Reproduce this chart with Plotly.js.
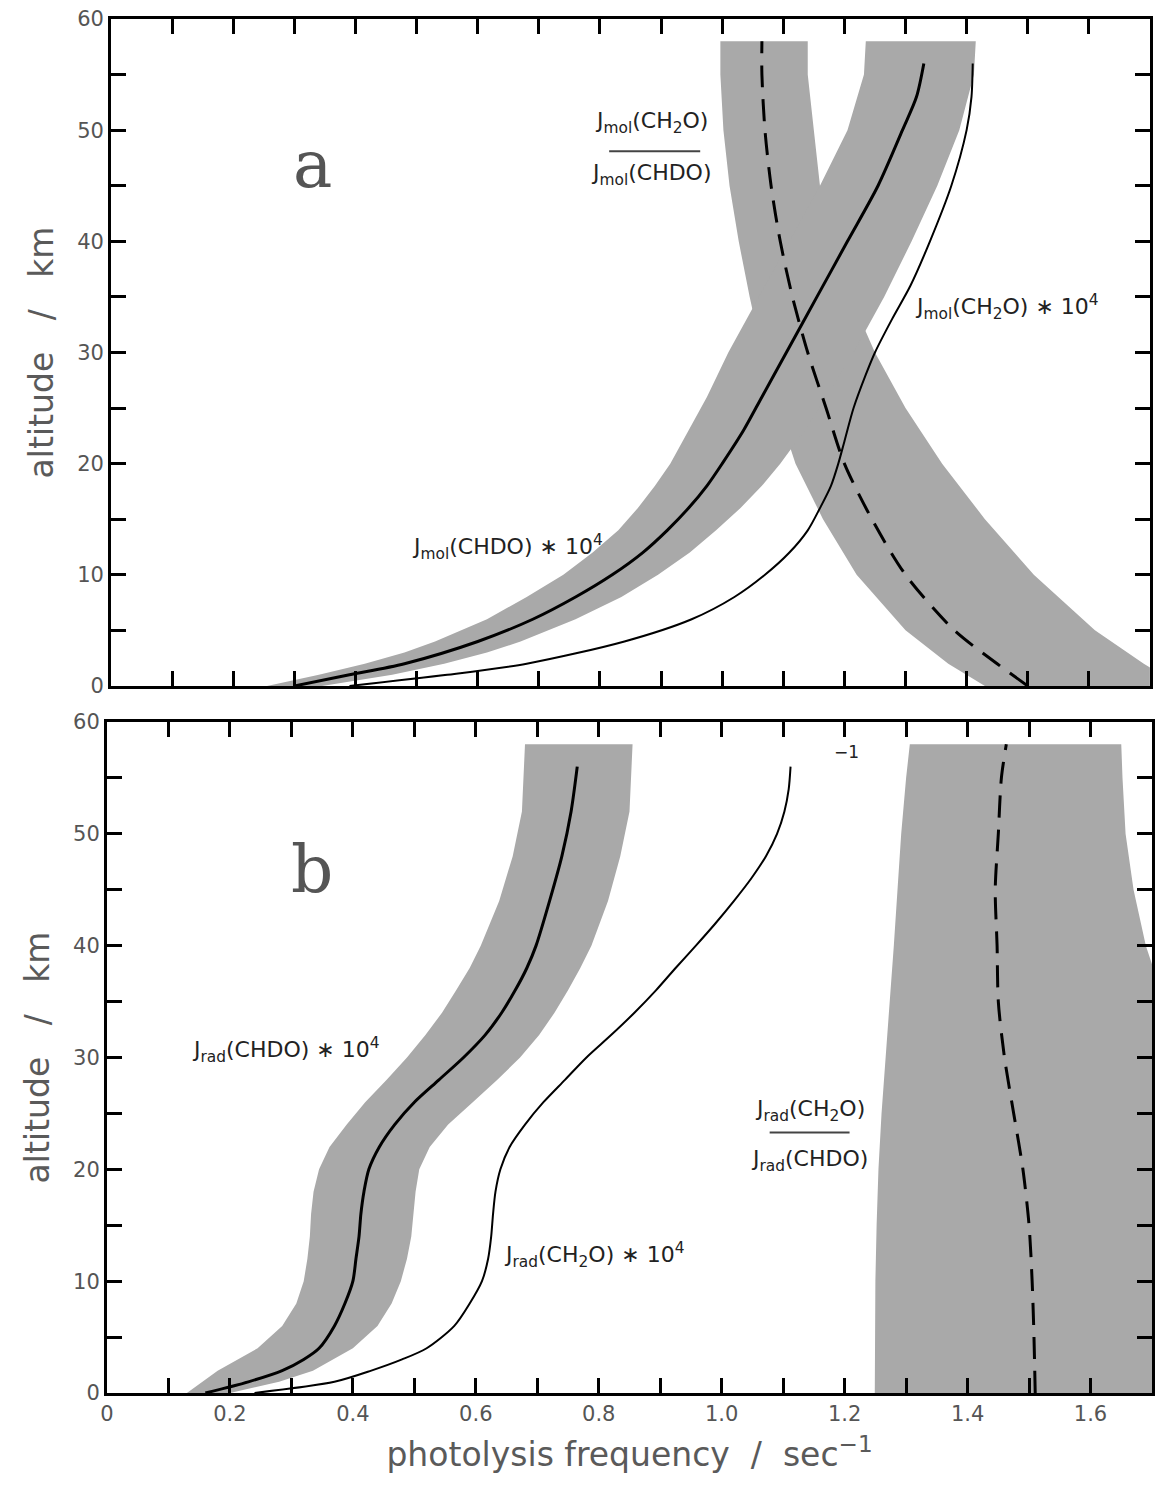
<!DOCTYPE html>
<html>
<head>
<meta charset="utf-8">
<script src="https://cdn.plot.ly/plotly-3.0.1.min.js"></script>
<style>html,body{margin:0;padding:0;background:#fff;}#chart{width:1155px;height:1497px;}</style>
</head>
<body>
<div id="chart"></div>
<script>
// ---------- Panel a (molecular) ----------
const altA_line = [0,1,2,4,6,8,10,12,14,16,18,20,23,26,30,35,40,45,50,53,56];
const chdoMolA  = [0.30,0.39,0.48,0.60,0.69,0.76,0.82,0.87,0.91,0.945,0.975,1.00,1.035,1.065,1.105,1.155,1.205,1.255,1.295,1.318,1.33];

const altA_thin = [0,1,2,4,6,8,10,12,14,16,18,20,22,25,28,30,33,36,40,45,50,53,56];
const ch2oMolA  = [0.39,0.55,0.68,0.84,0.95,1.02,1.07,1.11,1.14,1.16,1.178,1.19,1.20,1.215,1.235,1.25,1.278,1.308,1.34,1.375,1.40,1.408,1.41];

const altA_band   = [0,1,2,3,4,6,8,10,12,14,16,18,20,23,26,30,35,40,45,50,55,58];
const chdoMolA_lo = [0.255,0.34,0.415,0.48,0.53,0.615,0.68,0.74,0.788,0.83,0.862,0.89,0.915,0.945,0.975,1.01,1.06,1.11,1.16,1.205,1.232,1.235];
const chdoMolA_hi = [0.345,0.46,0.545,0.615,0.67,0.76,0.835,0.895,0.947,0.99,1.03,1.065,1.095,1.135,1.17,1.215,1.265,1.31,1.352,1.388,1.412,1.415];

const altA_ratio   = [0,2,5,10,15,20,25,30,35,40,45,50,55,58];
const ratioMolA    = [1.50,1.45,1.38,1.30,1.245,1.20,1.17,1.14,1.115,1.095,1.08,1.07,1.065,1.065];
const ratioMolA_lo = [1.43,1.37,1.30,1.22,1.165,1.12,1.09,1.065,1.045,1.027,1.012,1.002,0.997,0.997];
const ratioMolA_hi = [1.75,1.69,1.61,1.51,1.43,1.36,1.30,1.25,1.21,1.18,1.16,1.15,1.14,1.14];

// ---------- Panel b (radiative) ----------
const altB_line = [0,1,2,3,4,6,8,10,12,14,16,18,20,22,24,26,28,30,32,34,36,38,40,44,48,52,56];
const chdoRadB  = [0.16,0.23,0.285,0.32,0.345,0.37,0.387,0.40,0.405,0.41,0.413,0.418,0.426,0.443,0.468,0.50,0.54,0.58,0.615,0.642,0.664,0.683,0.698,0.72,0.74,0.755,0.765];

const altB_thin = [0,1,2,3,4,6,8,10,12,14,16,18,20,22,24,26,28,30,32,34,36,38,40,42,44,46,48,50,52,54,56];
const ch2oRadB  = [0.24,0.37,0.43,0.48,0.52,0.565,0.59,0.61,0.62,0.625,0.628,0.632,0.64,0.655,0.68,0.71,0.745,0.78,0.82,0.858,0.893,0.925,0.958,0.99,1.02,1.048,1.072,1.09,1.102,1.109,1.112];

const altB_band   = [0,1,2,4,6,8,10,12,14,16,18,20,22,24,26,28,30,32,34,36,38,40,44,48,52,58];
const chdoRadB_lo = [0.13,0.155,0.18,0.245,0.285,0.308,0.32,0.326,0.33,0.332,0.336,0.345,0.362,0.39,0.42,0.455,0.488,0.518,0.545,0.568,0.59,0.608,0.638,0.66,0.675,0.68];
const chdoRadB_hi = [0.20,0.28,0.335,0.40,0.44,0.463,0.478,0.488,0.495,0.498,0.502,0.508,0.525,0.555,0.595,0.635,0.672,0.703,0.728,0.75,0.77,0.788,0.815,0.835,0.85,0.855];

const altB_ratio   = [0,5,10,15,20,25,30,35,40,45,50,55,58];
const ratioRadB    = [1.51,1.508,1.505,1.50,1.49,1.475,1.46,1.45,1.448,1.445,1.45,1.455,1.463];
const ratioRadB_lo = [1.249,1.249,1.25,1.252,1.255,1.26,1.267,1.274,1.28,1.286,1.292,1.30,1.306];
const ratioRadB_hi = [1.76,1.76,1.76,1.76,1.76,1.76,1.76,1.72,1.69,1.67,1.657,1.652,1.65];

// ---------- ticks ----------
const xMajorVals = [0,0.2,0.4,0.6,0.8,1.0,1.2,1.4,1.6];
const xMajorText = ['0','0.2','0.4','0.6','0.8','1.0','1.2','1.4','1.6'];
const xMinorVals = [0.1,0.3,0.5,0.7,0.9,1.1,1.3,1.5];
const yMajorVals = [0,10,20,30,40,50,60];
const yMajorText = ['0','10','20','30','40','50','60'];
const yMinorVals = [5,15,25,35,45,55];

const GRAY = '#a9a9a9';

function band(alt, lo, hi, xa, ya) {
  return {
    x: lo.concat(hi.slice().reverse()),
    y: alt.concat(alt.slice().reverse()),
    xaxis: xa, yaxis: ya, type: 'scatter', mode: 'lines',
    fill: 'toself', fillcolor: GRAY, line: {width: 0, color: GRAY},
    hoverinfo: 'skip', showlegend: false
  };
}
function line(alt, v, xa, ya, w, dash) {
  return {
    x: v, y: alt, xaxis: xa, yaxis: ya, type: 'scatter', mode: 'lines',
    line: {color: '#000', width: w, dash: dash || 'solid', shape: 'spline', smoothing: 0.8},
    showlegend: false
  };
}

const data = [
  band(altA_ratio, ratioMolA_lo, ratioMolA_hi, 'x', 'y'),
  band(altA_band, chdoMolA_lo, chdoMolA_hi, 'x', 'y'),
  line(altA_ratio, ratioMolA, 'x', 'y', 3, '22px,12px'),
  line(altA_line, chdoMolA, 'x', 'y', 3),
  line(altA_thin, ch2oMolA, 'x', 'y', 2),
  band(altB_ratio, ratioRadB_lo, ratioRadB_hi, 'x2', 'y2'),
  band(altB_band, chdoRadB_lo, chdoRadB_hi, 'x2', 'y2'),
  line(altB_ratio, ratioRadB, 'x2', 'y2', 3, '22px,12px'),
  line(altB_line, chdoRadB, 'x2', 'y2', 3),
  line(altB_thin, ch2oRadB, 'x2', 'y2', 2)
];

const tickFont = {family: 'DejaVu Sans, sans-serif', size: 21, color: '#555'};
const titleFont = {family: 'DejaVu Sans, sans-serif', size: 33, color: '#5a5a5a'};

function xaxisCfg(anchor, labels, domain) {
  return {
    domain: domain, anchor: anchor, range: [0, 1.7], showgrid: false, zeroline: false,
    showline: true, linewidth: 3, linecolor: '#000', mirror: 'ticks',
    ticks: 'inside', ticklen: 15, tickwidth: 3, tickcolor: '#000',
    tickmode: 'array', tickvals: xMajorVals, ticktext: xMajorText,
    minor: {tickmode: 'array', tickvals: xMinorVals, ticks: 'inside', ticklen: 15, tickwidth: 3, tickcolor: '#000', showgrid: false},
    showticklabels: labels, tickfont: tickFont
  };
}
function yaxisCfg(anchor, domain) {
  return {
    domain: domain, anchor: anchor, range: [0, 60], showgrid: false, zeroline: false,
    showline: true, linewidth: 3, linecolor: '#000', mirror: 'ticks',
    ticks: 'inside', ticklen: 15, tickwidth: 3, tickcolor: '#000',
    tickmode: 'array', tickvals: yMajorVals, ticktext: yMajorText,
    minor: {tickmode: 'array', tickvals: yMinorVals, ticks: 'inside', ticklen: 15, tickwidth: 3, tickcolor: '#000', showgrid: false},
    tickfont: tickFont,
    title: {text: 'altitude\u00a0\u00a0\u00a0/\u00a0\u00a0\u00a0km', font: titleFont, standoff: 14}
  };
}

const xa = xaxisCfg('y', false, [0.004, 0.998]);
const xb = Object.assign(xaxisCfg('y2', true, [0, 1]), {
  title: {text: 'photolysis\u00a0frequency\u00a0\u00a0/\u00a0\u00a0sec<sup>−1</sup>', font: titleFont, standoff: 18}
});

const labFont = {family: 'DejaVu Sans, sans-serif', size: 22, color: '#222'};
const bigFont = {family: 'DejaVu Serif, serif', size: 66, color: '#555'};

function ann(xr, yr, x, y, text, font, xanchor) {
  return {xref: xr, yref: yr, x: x, y: y, text: text, showarrow: false, font: font,
          xanchor: xanchor || 'center', yanchor: 'middle'};
}

const annotations = [
  ann('x', 'y', 0.329, 46.9, 'a', bigFont),
  ann('x', 'y', 0.884, 50.7, 'J<sub>mol</sub>(CH<sub>2</sub>O)', labFont),
  ann('x', 'y', 0.884, 46.0, 'J<sub>mol</sub>(CHDO)', labFont),
  ann('x', 'y', 0.489, 12.5, 'J<sub>mol</sub>(CHDO) ∗ 10<sup>4</sup>', labFont, 'left'),
  ann('x', 'y', 1.313, 34.1, 'J<sub>mol</sub>(CH<sub>2</sub>O) ∗ 10<sup>4</sup>', labFont, 'left'),
  ann('x2', 'y2', 0.333, 46.8, 'b', bigFont),
  ann('x2', 'y2', 0.135, 30.7, 'J<sub>rad</sub>(CHDO) ∗ 10<sup>4</sup>', labFont, 'left'),
  ann('x2', 'y2', 0.642, 12.3, 'J<sub>rad</sub>(CH<sub>2</sub>O) ∗ 10<sup>4</sup>', labFont, 'left'),
  ann('x2', 'y2', 1.143, 25.3, 'J<sub>rad</sub>(CH<sub>2</sub>O)', labFont),
  ann('x2', 'y2', 1.143, 20.8, 'J<sub>rad</sub>(CHDO)', labFont),
  ann('x2', 'y2', 1.203, 57.3, '−1', {family: 'DejaVu Sans, sans-serif', size: 17, color: '#222'})
];

const shapes = [
  {type: 'line', xref: 'x', yref: 'y', x0: 0.815, x1: 0.964, y0: 48.1, y1: 48.1, line: {color: '#444', width: 2}},
  {type: 'line', xref: 'x2', yref: 'y2', x0: 1.078, x1: 1.208, y0: 23.3, y1: 23.3, line: {color: '#444', width: 2}}
];

const layout = {
  width: 1155, height: 1497,
  margin: {l: 107, r: 3, t: 19, b: 104},
  paper_bgcolor: '#fff', plot_bgcolor: '#fff',
  showlegend: false,
  xaxis: xa,
  yaxis: yaxisCfg('x', [0.5146, 1]),
  xaxis2: xb,
  yaxis2: yaxisCfg('x2', [0, 0.4884]),
  annotations: annotations,
  shapes: shapes
};

Plotly.newPlot('chart', data, layout, {staticPlot: true, displayModeBar: false});
</script>
</body>
</html>
